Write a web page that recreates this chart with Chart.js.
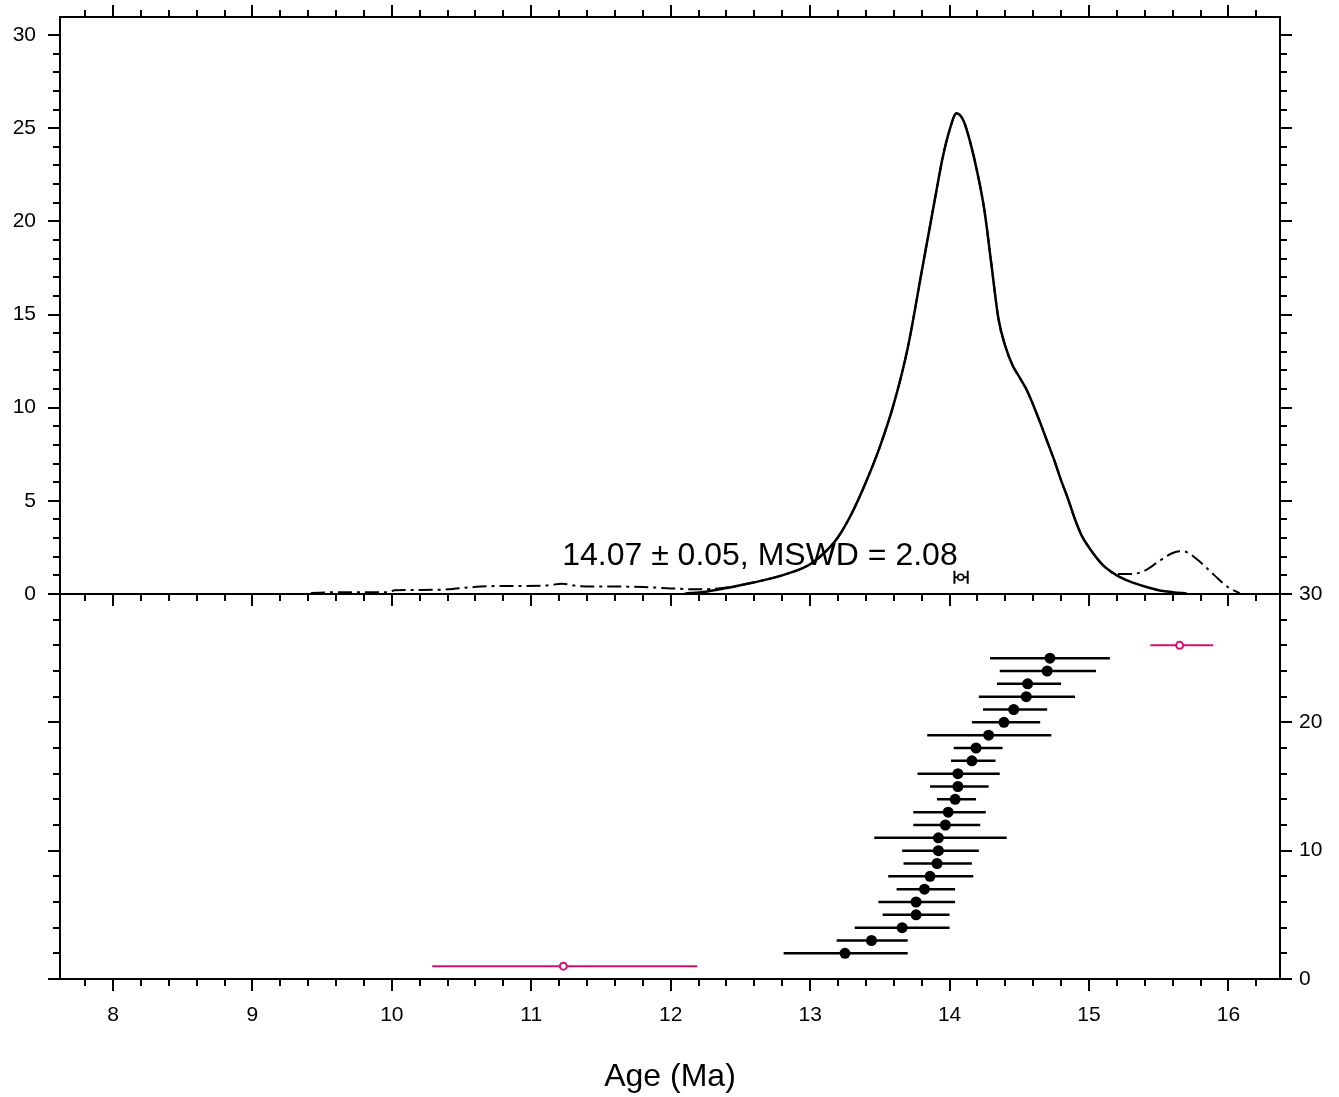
<!DOCTYPE html>
<html>
<head>
<meta charset="utf-8">
<title>Age (Ma)</title>
<script src="https://cdn.jsdelivr.net/npm/chart.js@4.4.1/dist/chart.umd.min.js"></script>
<style>
    html, body { margin: 0; padding: 0; background: #fff; }
    #wrap { position: relative; width: 1339px; height: 1097px; }
    canvas { position: absolute; left: 0; top: 0; }
</style>
</head>
<body>
<div id="wrap">
    <canvas id="densChart" width="1339" height="1097"></canvas>
    <canvas id="rankChart" width="1339" height="1097"></canvas>
</div>
<script>
// ============= dados =====================================

// curva de densidade dos grãos aceitos (linha cheia)
const kdeAge = [12.10, 12.25, 12.40, 12.55, 12.70, 12.80, 12.90, 13.00, 13.10, 13.20,
    13.30, 13.40, 13.50, 13.60, 13.70, 13.80, 13.90, 13.95, 14.00, 14.05,
    14.10, 14.15, 14.20, 14.25, 14.30, 14.35, 14.40, 14.45, 14.50, 14.55,
    14.60, 14.65, 14.70, 14.75, 14.80, 14.85, 14.90, 14.95, 15.00, 15.10,
    15.20, 15.30, 15.40, 15.50, 15.60, 15.70]
const kdeSelected = [0.02, 0.12, 0.32, 0.55, 0.8, 1.0, 1.25, 1.6, 2.2, 3.05,
    4.35, 6.0, 7.9, 10.2, 13.2, 17.3, 21.4, 23.4, 24.9, 25.8,
    25.4, 24.2, 22.6, 20.6, 17.7, 14.8, 13.3, 12.3, 11.65, 11.0,
    10.15, 9.2, 8.2, 7.2, 6.1, 5.1, 4.0, 3.1, 2.5, 1.55,
    1.0, 0.65, 0.4, 0.2, 0.1, 0.03]

// curva de densidade de todos os grãos (traço-ponto)
const kdeAllAge = [9.42, 9.60, 9.80, 9.98, 10.02, 10.20, 10.40, 10.55, 10.70, 10.90,
    11.10, 11.22, 11.35, 11.60, 11.80, 12.00, 12.20, 12.40, 12.55, 12.70,
    12.80, 12.90, 13.00, 13.10, 13.20, 13.30, 13.40, 13.50, 13.60, 13.70,
    13.80, 13.90, 13.95, 14.00, 14.05, 14.10, 14.15, 14.20, 14.25, 14.30,
    14.35, 14.40, 14.45, 14.50, 14.55, 14.60, 14.65, 14.70, 14.75, 14.80,
    14.85, 14.90, 14.95, 15.00, 15.10, 15.20, 15.30, 15.40, 15.50, 15.60,
    15.65, 15.70, 15.80, 15.90, 16.00, 16.08]
const kdeAll = [0.05, 0.1, 0.1, 0.1, 0.2, 0.22, 0.25, 0.35, 0.42, 0.43,
    0.45, 0.55, 0.42, 0.4, 0.38, 0.3, 0.25, 0.35, 0.55, 0.8,
    1.0, 1.25, 1.6, 2.2, 3.05, 4.35, 6.0, 7.9, 10.2, 13.2,
    17.3, 21.4, 23.4, 24.9, 25.8, 25.4, 24.2, 22.6, 20.6, 17.7,
    14.8, 13.3, 12.3, 11.65, 11.0, 10.15, 9.2, 8.2, 7.2, 6.1,
    5.1, 4.0, 3.1, 2.5, 1.55, 1.07, 1.07, 1.25, 1.75, 2.2,
    2.3, 2.25, 1.7, 1.0, 0.35, 0.05]

// média ponderada
const meanAge = 14.08
const meanLo = 14.035
const meanHi = 14.13
const meanLevel = 0.9
const meanLabel = '14.07 ± 0.05, MSWD = 2.08'
const labelAt = [12.64, 2.04]

// idades individuais aceitas (ordem de classificação)
const grainRank = [2, 3, 4, 5, 6, 7, 8, 9, 10, 11, 12, 13, 14, 15, 16, 17, 18, 19, 20, 21, 22, 23, 24, 25]
const grainAge = [13.25, 13.44, 13.66, 13.76, 13.76, 13.82, 13.86, 13.91, 13.92, 13.92,
    13.97, 13.99, 14.04, 14.06, 14.06, 14.16, 14.19, 14.28, 14.39, 14.46,
    14.55, 14.56, 14.70, 14.72]
const grainLo = [12.81, 13.19, 13.32, 13.52, 13.49, 13.62, 13.56, 13.67, 13.66, 13.46,
    13.74, 13.74, 13.91, 13.86, 13.77, 14.01, 14.03, 13.84, 14.16, 14.24,
    14.21, 14.34, 14.36, 14.29]
const grainHi = [13.70, 13.70, 14.00, 14.00, 14.04, 14.04, 14.17, 14.16, 14.21, 14.41,
    14.22, 14.26, 14.19, 14.28, 14.36, 14.33, 14.38, 14.73, 14.65, 14.70,
    14.90, 14.80, 15.05, 15.15]

// idades rejeitadas
const rejRank = [1, 26]
const rejAge = [11.23, 15.65]
const rejLo = [10.29, 15.44]
const rejHi = [12.19, 15.89]

// eixos
const xMin = 7.62
const xMax = 16.37
const xTickLabels = [8, 9, 10, 11, 12, 13, 14, 15, 16]
const densTicks = [0, 5, 10, 15, 20, 25, 30]
const rankTicks = [0, 10, 20, 30]
const xAxisTitle = 'Age (Ma)'

const pink = '#d3106f'
Chart.defaults.font.family = "'Liberation Sans', Arial, Helvetica, sans-serif"
Chart.defaults.color = '#000'

// ============= moldura e marcas de escala =====================

function drawTicks(ctx, x, y, chart, cfg) {
    const a = chart.chartArea
    ctx.save()
    ctx.strokeStyle = '#000'
    ctx.lineWidth = 2
    ctx.lineCap = 'butt'
    ctx.strokeRect(a.left, a.top, a.right - a.left, a.bottom - a.top)
    ctx.beginPath()
    // marcas do eixo x a cada 0.2
    for (let k = 38; k <= 82; k++) {
        const v = k / 5
        if (v < xMin || v > xMax) continue
        const px = Math.round(x.getPixelForValue(v))
        const len = k % 5 === 0 ? 12 : 7
        if (cfg.topUp) { ctx.moveTo(px, a.top); ctx.lineTo(px, a.top - len) }
        if (cfg.bottomDown) { ctx.moveTo(px, a.bottom); ctx.lineTo(px, a.bottom + len) }
    }
    // marcas do eixo y
    for (let v = 0; v <= cfg.yMax; v += cfg.minor) {
        const py = Math.round(y.getPixelForValue(v))
        const len = v % cfg.major === 0 ? 12 : 7
        ctx.moveTo(a.left, py); ctx.lineTo(a.left - len, py)
        ctx.moveTo(a.right, py); ctx.lineTo(a.right + len, py)
    }
    ctx.stroke()
    ctx.restore()
}

// sem folga extra do rótulo: a área do gráfico fica onde a figura manda
function fixPadding(s) {
    s.paddingTop = 0
    s.paddingBottom = 0
}

const densFrame = {
    id: 'densFrame',
    afterDraw(chart) {
        const { ctx, scales: { x, y } } = chart
        drawTicks(ctx, x, y, chart, { topUp: true, bottomDown: true, yMax: 30, minor: 1, major: 5 })
        ctx.save()
        ctx.font = "32px 'Liberation Sans', Arial, sans-serif"
        ctx.fillStyle = '#000'
        ctx.textAlign = 'center'
        ctx.textBaseline = 'middle'
        ctx.fillText(meanLabel, x.getPixelForValue(labelAt[0]), y.getPixelForValue(labelAt[1]))
        ctx.restore()
    }
}

const rankFrame = {
    id: 'rankFrame',
    afterDraw(chart) {
        const { ctx, scales: { x, y } } = chart
        drawTicks(ctx, x, y, chart, { topUp: false, bottomDown: true, yMax: 30, minor: 2, major: 10 })
    }
}

// ============= gráfico de densidade (painel de cima) =====================

new Chart(document.getElementById('densChart').getContext('2d'), {
    type: 'scatter',
    data: {
        datasets: [
            {
                label: 'todas',
                data: kdeAllAge.map((a, i) => ({ x: a, y: kdeAll[i] })),
                showLine: true,
                borderColor: '#000',
                borderWidth: 2,
                borderDash: [14, 5, 3, 5],
                pointRadius: 0,
                cubicInterpolationMode: 'monotone',
                order: 3
            },
            {
                label: 'aceitas',
                data: kdeAge.map((a, i) => ({ x: a, y: kdeSelected[i] })),
                showLine: true,
                borderColor: '#000',
                borderWidth: 2.5,
                pointRadius: 0,
                cubicInterpolationMode: 'monotone',
                order: 2
            },
            {
                label: 'erro média',
                data: [{ x: meanLo, y: meanLevel }, { x: meanHi, y: meanLevel }],
                showLine: true,
                borderColor: '#000',
                borderWidth: 2,
                pointStyle: 'line',
                rotation: 90,
                pointRadius: 6.5,
                pointBorderWidth: 2,
                pointBorderColor: '#000',
                order: 1
            },
            {
                label: 'média',
                data: [{ x: meanAge, y: meanLevel }],
                pointRadius: 3,
                pointBackgroundColor: '#fff',
                pointBorderColor: '#000',
                pointBorderWidth: 1.5,
                order: 0
            }
        ]
    },
    options: {
        responsive: false,
        animation: false,
        layout: { padding: { top: 17, right: 59, bottom: 503, left: 0 } },
        plugins: { legend: { display: false }, tooltip: { enabled: false } },
        scales: {
            x: { type: 'linear', min: xMin, max: xMax, display: false },
            y: {
                type: 'linear',
                position: 'left',
                min: 0,
                max: 30.97,
                afterFit: s => { s.width = 60; fixPadding(s) },
                afterBuildTicks: s => { s.ticks = densTicks.map(v => ({ value: v })) },
                grid: { display: false, drawTicks: false },
                border: { display: false },
                ticks: { padding: 24, font: { size: 21 }, color: '#000' }
            }
        }
    },
    plugins: [densFrame]
})

// ============= gráfico de idades ordenadas (painel de baixo) =====================

const errorBars = grainAge.map((g, i) => ({
    label: 'barra ' + grainRank[i],
    data: [{ x: grainLo[i], y: grainRank[i] }, { x: grainHi[i], y: grainRank[i] }],
    showLine: true,
    borderColor: '#000',
    borderWidth: 2.5,
    pointRadius: 0,
    order: 2
}))
const rejBars = rejAge.map((g, i) => ({
    label: 'rejeitada ' + rejRank[i],
    data: [{ x: rejLo[i], y: rejRank[i] }, { x: rejHi[i], y: rejRank[i] }],
    showLine: true,
    borderColor: pink,
    borderWidth: 2,
    pointRadius: 0,
    order: 2
}))

new Chart(document.getElementById('rankChart').getContext('2d'), {
    type: 'scatter',
    data: {
        datasets: [
            ...errorBars,
            ...rejBars,
            {
                label: 'idades',
                data: grainAge.map((g, i) => ({ x: g, y: grainRank[i] })),
                pointRadius: 5.5,
                pointBackgroundColor: '#000',
                pointBorderWidth: 0,
                order: 0
            },
            {
                label: 'rejeitadas',
                data: rejAge.map((g, i) => ({ x: g, y: rejRank[i] })),
                pointRadius: 3.5,
                pointBackgroundColor: '#fff',
                pointBorderColor: pink,
                pointBorderWidth: 2,
                order: 0
            }
        ]
    },
    options: {
        responsive: false,
        animation: false,
        layout: { padding: { top: 594, right: 0, bottom: 0, left: 60 } },
        plugins: { legend: { display: false }, tooltip: { enabled: false } },
        scales: {
            x: {
                type: 'linear',
                position: 'bottom',
                min: xMin,
                max: xMax,
                afterFit: s => { s.height = 118 },
                afterBuildTicks: s => { s.ticks = xTickLabels.map(v => ({ value: v })) },
                grid: { display: false, drawTicks: false },
                border: { display: false },
                ticks: { padding: 24, font: { size: 21 }, color: '#000' },
                title: {
                    display: true,
                    text: xAxisTitle,
                    font: { size: 32 },
                    color: '#000',
                    padding: { top: 0, bottom: 1 }
                }
            },
            y: {
                type: 'linear',
                position: 'right',
                min: 0,
                max: 30,
                afterFit: s => { s.width = 59; fixPadding(s) },
                afterBuildTicks: s => { s.ticks = rankTicks.map(v => ({ value: v })) },
                grid: { display: false, drawTicks: false },
                border: { display: false },
                ticks: { padding: 19, font: { size: 21 }, color: '#000' }
            }
        }
    },
    plugins: [rankFrame]
})
</script>
</body>
</html>
